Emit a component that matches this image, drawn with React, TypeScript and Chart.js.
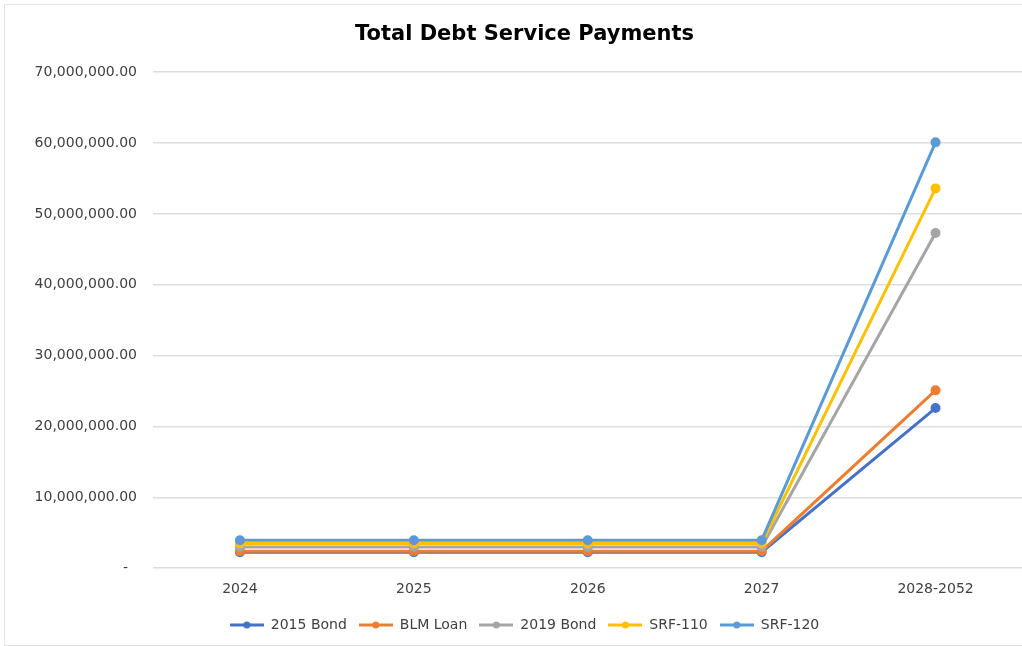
import React, { useEffect, useRef } from "react";
import { Chart, registerables } from "chart.js";

Chart.register(...registerables);

const categories = ["2024", "2025", "2026", "2027", "2028-2052"];
const seriesNames = ["2015 Bond", "BLM Loan", "2019 Bond", "SRF-110", "SRF-120"];
const bond2015 = [2250000, 2250000, 2250000, 2250000, 22600000];
const blmLoan = [2400000, 2400000, 2400000, 2400000, 25100000];
const bond2019 = [3000000, 3000000, 3000000, 3000000, 47300000];
const srf110 = [3500000, 3500000, 3500000, 3500000, 53600000];
const srf120 = [3950000, 3950000, 3950000, 3950000, 60100000];
const seriesColors = ["#4472C4", "#ED7D31", "#A5A5A5", "#FFC000", "#5B9BD5"];
const yTicks = [0, 10000000, 20000000, 30000000, 40000000, 50000000, 60000000, 70000000];

const FONT = "DejaVu Sans";

function legendIcon(color: string): HTMLCanvasElement {
  const c = document.createElement("canvas");
  c.width = 34;
  c.height = 10;
  const ctx = c.getContext("2d")!;
  ctx.strokeStyle = color;
  ctx.lineWidth = 3;
  ctx.beginPath();
  ctx.moveTo(0, 5);
  ctx.lineTo(34, 5);
  ctx.stroke();
  ctx.fillStyle = color;
  ctx.beginPath();
  ctx.arc(17, 5, 3.5, 0, Math.PI * 2);
  ctx.fill();
  return c;
}

export default function App() {
  const ref = useRef<HTMLCanvasElement>(null);
  useEffect(() => {
    document.body.style.margin = "0";
    document.body.style.overflow = "hidden";
    const values = [bond2015, blmLoan, bond2019, srf110, srf120];
    const chart = new Chart(ref.current!, {
      type: "line",
      data: {
        labels: categories,
        datasets: seriesNames.map((name, i) => ({
          label: name,
          data: values[i],
          borderColor: seriesColors[i],
          backgroundColor: seriesColors[i],
          borderWidth: 3,
          pointRadius: 3.5,
          pointHoverRadius: 3.5,
          pointBackgroundColor: seriesColors[i],
          pointBorderColor: seriesColors[i],
          tension: 0,
          order: 10 - i,
        })),
      },
      options: {
        animation: false,
        responsive: false,
        layout: { padding: { left: 20, right: 0, top: 0, bottom: 4 } },
        plugins: {
          title: {
            display: true,
            text: "Total Debt Service Payments",
            color: "#000",
            font: { family: FONT, size: 21, weight: "bold" },
            padding: { top: 22, bottom: 25 },
          },
          legend: {
            position: "bottom",
            labels: {
              usePointStyle: true,
              pointStyleWidth: 34,
              boxHeight: 10,
              color: "#404040",
              font: { family: FONT, size: 14 },
              padding: 12,
              generateLabels: () =>
                seriesNames.map((name, i) => ({
                  text: name,
                  fillStyle: seriesColors[i],
                  strokeStyle: seriesColors[i],
                  lineWidth: 0,
                  pointStyle: legendIcon(seriesColors[i]),
                  datasetIndex: i,
                  hidden: false,
                  fontColor: "#404040",
                })),
            },
          },
          tooltip: { enabled: false },
        },
        scales: {
          x: {
            offset: true,
            afterFit: (s: any) => {
              s.height += 3;
            },
            grid: { display: false },
            border: { display: false },
            ticks: { color: "#404040", font: { family: FONT, size: 14 }, padding: 5 },
          },
          y: {
            min: 0,
            max: 70000000,
            afterFit: (s: any) => {
              s.width = 133;
            },
            afterBuildTicks: (s: any) => {
              s.ticks = yTicks.map((v) => ({ value: v }));
            },
            grid: { color: "#dedede", lineWidth: 1.5, drawTicks: false },
            border: { display: false },
            ticks: {
              color: "#404040",
              font: { family: FONT, size: 14 },
              padding: 16,
              callback: (v: any) =>
                Number(v) === 0
                  ? "-  "
                  : Number(v).toLocaleString("en-US", { minimumFractionDigits: 2, maximumFractionDigits: 2 }),
            },
          },
        },
      },
    });
    return () => chart.destroy();
  }, []);
  return (
    <div style={{ position: "relative", width: 1022, height: 646, overflow: "hidden", background: "#fff" }}>
      <canvas ref={ref} width={1029} height={646} style={{ display: "block" }} />
      <div
        style={{
          position: "absolute",
          left: 4,
          top: 4,
          width: 1030,
          height: 640,
          border: "1px solid #e4e4e4",
          pointerEvents: "none",
        }}
      />
    </div>
  );
}
